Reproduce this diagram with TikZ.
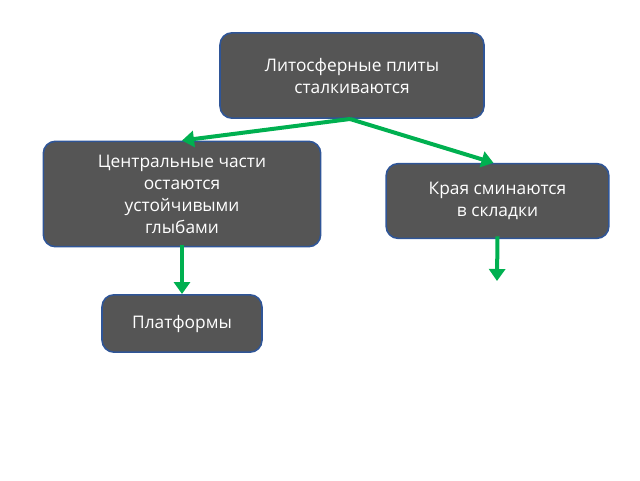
\documentclass[tikz,border=0pt]{standalone}
\usepackage{fontspec}
\setmainfont{Open Sans}
\usetikzlibrary{arrows.meta}
\tikzset{every picture/.style={line width=0.75pt}}
\definecolor{boxfill}{RGB}{85,85,85}
\definecolor{boxline}{RGB}{47,85,151}
\definecolor{arrowgreen}{RGB}{0,176,80}
\tikzset{
  darkbox/.style={draw=boxline, line width=1.2pt, fill=boxfill, rounded corners=9pt,
    text=white, align=center, inner sep=0pt, font=\fontsize{13}{16.5}\selectfont},
  greenarrow/.style={draw=arrowgreen, line width=3pt, -{Triangle[length=9pt,width=12pt]}}
}
\begin{document}
\begin{tikzpicture}[x=0.75pt,y=0.75pt,yscale=-1,xscale=1]
\useasboundingbox (0,0) rectangle (640,480);

% Boxes
\node [darkbox, minimum width=198pt, minimum height=64pt] (plates) at (352,75.5) {Литосферные плиты\\сталкиваются};
\node [darkbox, minimum width=208pt, minimum height=79pt] (centre) at (182,194) {Центральные части\\остаются\\устойчивыми\\глыбами};
\node [darkbox, minimum width=167pt, minimum height=56pt] (edges) at (497.5,201) {Края сминаются\\в складки};
\node [darkbox, minimum width=120pt, minimum height=43pt] (platforms) at (182,323.5) {Платформы};

% Arrows
\coordinate (fork) at (350,119);
\coordinate (folds) at (497,281);
\draw [greenarrow] (fork) -- (centre.north);
\draw [greenarrow] (fork) -- ([xshift=-3pt]edges.north);
\draw [greenarrow] ([yshift=-2pt]centre.south) -- (platforms.north);
\draw [greenarrow] ([yshift=-2pt]edges.south) -- (folds);
\end{tikzpicture}
\end{document}
